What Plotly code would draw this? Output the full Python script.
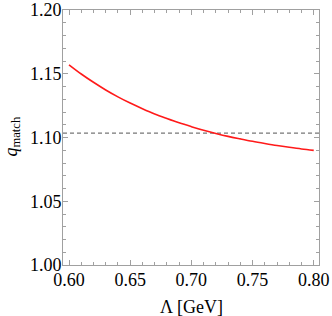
import plotly.graph_objects as go

lam = [0.60, 0.61, 0.62, 0.63, 0.64, 0.65, 0.66, 0.67, 0.68, 0.69, 0.70,
       0.71, 0.72, 0.73, 0.74, 0.75, 0.76, 0.77, 0.78, 0.79, 0.80]
q_match = [1.1570, 1.1498, 1.1433, 1.1373, 1.1319, 1.1270, 1.1226, 1.1185,
           1.1149, 1.1115, 1.1085, 1.1057, 1.1032, 1.1009, 1.0989, 1.0970,
           1.0953, 1.0937, 1.0923, 1.0910, 1.0899]
q_ref = 1.1035
x_ticks = [0.60, 0.65, 0.70, 0.75, 0.80]
x_ticklabels = ["0.60", "0.65", "0.70", "0.75", "0.80"]
y_ticks = [1.00, 1.05, 1.10, 1.15, 1.20]
y_ticklabels = ["1.00", "1.05", "1.10", "1.15", "1.20"]

axcol = "#a0a0a0"
font = "Liberation Serif"

fig = go.Figure()
fig.add_trace(go.Scatter(x=[0.5951, 0.8043], y=[q_ref, q_ref], mode="lines",
                         line=dict(color="#777777", width=1.3, dash="4px,3px"),
                         hoverinfo="skip", showlegend=False))
fig.add_trace(go.Scatter(x=lam, y=q_match, mode="lines",
                         line=dict(color="#ff1a1a", width=1.6, shape="spline"),
                         showlegend=False))

common = dict(showgrid=False, zeroline=False, showline=True, linecolor=axcol,
              linewidth=1, mirror="allticks", ticks="inside", ticklen=5,
              tickcolor=axcol, tickwidth=1, automargin=False,
              tickfont=dict(family=font, size=18, color="black"),
              minor=dict(ticks="inside", ticklen=3, tickcolor=axcol, dtick=0.01,
                         showgrid=False))

fig.update_layout(
    width=332, height=316,
    margin=dict(l=63, r=13, t=10, b=51),
    paper_bgcolor="white", plot_bgcolor="white",
    xaxis=dict(range=[0.5951, 0.8043], tickvals=x_ticks, ticktext=x_ticklabels,
               ticklabelstandoff=-2, **common),
    yaxis=dict(range=[1.0, 1.2], tickvals=y_ticks, ticktext=y_ticklabels,
               ticklabelstandoff=-3, **common),
    annotations=[
        dict(text="Λ [GeV]", xref="paper", yref="paper", x=0.5, y=-0.163,
             xanchor="center", yanchor="middle", showarrow=False,
             font=dict(family=font, size=18, color="black")),
        dict(text="<i>q</i><sub>match</sub>", xref="paper", yref="paper",
             x=-0.197, y=0.502, xanchor="center", yanchor="middle",
             textangle=-90, showarrow=False,
             font=dict(family=font, size=18, color="black")),
    ],
)
fig.update_xaxes(minor=dict(tick0=0.60))
fig.update_yaxes(minor=dict(tick0=1.0))

fig.write_html("out.html", config={"displayModeBar": False},
               post_script="document.body.style.margin='0';document.body.style.overflow='hidden';")
